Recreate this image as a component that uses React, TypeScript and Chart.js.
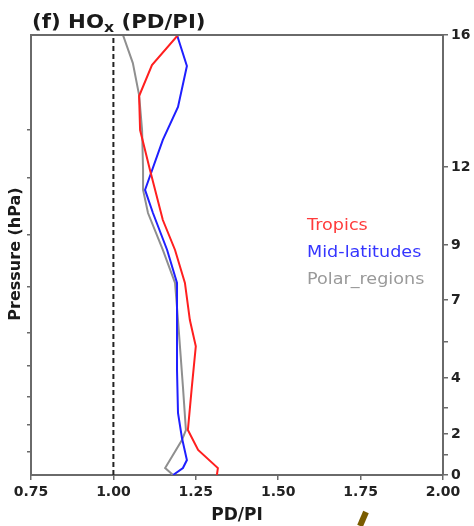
import React, { useEffect, useRef } from 'react';
import { Chart, registerables, LinearScale } from 'chart.js';

// ---- data (altitude in km, ratio PD/PI) ----
const seriesLabels = ['Tropics', 'Mid-latitudes', 'Polar_regions'];
const seriesColors = ['#ff1f1f', '#1f1fff', '#8f8f8f'];
const legendColors = ['#ff3b3b', '#3535ff', '#9a9a9a'];

const tropicsAlt = [0, 0.34, 1.22, 2.14, 3.68, 5.22, 6.23, 7.62, 8.82, 9.96, 11.88, 13.12, 14.15, 15.09, 16];
const tropicsRatio = [1.314, 1.317, 1.257, 1.226, 1.238, 1.250, 1.232, 1.217, 1.187, 1.150, 1.111, 1.081, 1.078, 1.117, 1.196];

const midlatAlt = [0, 0.34, 0.73, 1.8, 2.75, 4.31, 6.27, 7.62, 8.82, 10.23, 11.12, 12.82, 13.82, 15.06, 16];
const midlatRatio = [1.181, 1.211, 1.223, 1.208, 1.196, 1.193, 1.193, 1.193, 1.163, 1.120, 1.096, 1.150, 1.196, 1.223, 1.193];

const polarAlt = [0, 0.34, 1.71, 2.14, 3.68, 6.23, 7.62, 8.82, 10.23, 11.12, 11.9, 13.12, 14.18, 15.15, 16];
const polarRatio = [1.181, 1.157, 1.208, 1.220, 1.211, 1.196, 1.187, 1.150, 1.105, 1.090, 1.090, 1.087, 1.078, 1.059, 1.029];

const refRatio = 1.0;
const xTicks = [0.75, 1.0, 1.25, 1.5, 1.75, 2.0];
const altTickLabels = [0, 2, 4, 7, 9, 12, 16];
const altMinorTicks = [0.98, 2.93, 5.38];
const pressureTicks = [1.12, 2.32, 3.32, 4.46, 5.73, 7.47, 9.38, 11.58, 13.12];

// ---- custom vertical scale: altitude axis with non-uniform spacing ----
const KM_KNOTS = [0, 2, 4, 7, 9, 12, 16];
const FRAC_KNOTS = [0, 0.0932, 0.2205, 0.3977, 0.5227, 0.7, 1];
function interp(v: number, xs: number[], ys: number[]) {
  if (v <= xs[0]) return ys[0];
  for (let i = 1; i < xs.length; i++) {
    if (v <= xs[i]) {
      const t = (v - xs[i - 1]) / (xs[i] - xs[i - 1]);
      return ys[i - 1] + t * (ys[i] - ys[i - 1]);
    }
  }
  return ys[ys.length - 1];
}
class AltitudeScale extends LinearScale {
  static id = 'altitude';
  static defaults = { ...(LinearScale as any).defaults };
  getPixelForValue(value: any) {
    if (value == null || isNaN(value)) return NaN;
    return (this as any).getPixelForDecimal(interp(value, KM_KNOTS, FRAC_KNOTS));
  }
  getValueForPixel(pixel: number) {
    return interp((this as any).getDecimalForPixel(pixel), FRAC_KNOTS, KM_KNOTS);
  }
}

Chart.register(...registerables, AltitudeScale as any);

const AXIS_COLOR = '#6a6a6a';
const TICK_FONT = { family: 'DejaVu Sans', size: 14, weight: 'bold' as const };

const decorPlugin = {
  id: 'decor',
  afterDraw(chart: any) {
    const { ctx, chartArea } = chart;
    const { left, right, top, bottom } = chartArea;
    ctx.save();
    // top frame line
    ctx.strokeStyle = AXIS_COLOR;
    ctx.lineWidth = 2;
    ctx.beginPath();
    ctx.moveTo(left - 1, top);
    ctx.lineTo(right + 1, top);
    ctx.stroke();

    // title with subscript
    ctx.fillStyle = '#1a1a1a';
    ctx.textBaseline = 'alphabetic';
    ctx.save();
    ctx.translate(left + 1, 28);
    ctx.scale(1.12, 1);
    ctx.font = 'bold 19px "DejaVu Sans"';
    let x = 0;
    ctx.fillText('(f) HO', x, 0);
    x += ctx.measureText('(f) HO').width;
    ctx.font = 'bold 14px "DejaVu Sans"';
    ctx.fillText('x', x, 4);
    x += ctx.measureText('x').width;
    ctx.font = 'bold 19px "DejaVu Sans"';
    ctx.fillText(' (PD/PI)', x, 0);
    ctx.restore();

    // x axis title
    ctx.font = 'bold 17px "DejaVu Sans"';
    ctx.textAlign = 'center';
    ctx.fillText('PD/PI', (left + right) / 2, 520);

    // y axis title
    ctx.save();
    ctx.translate(16, (top + bottom) / 2 - 1);
    ctx.rotate(-Math.PI / 2);
    ctx.font = 'bold 16px "DejaVu Sans"';
    ctx.textAlign = 'center';
    ctx.textBaseline = 'middle';
    ctx.fillText('Pressure (hPa)', 0, 0);
    ctx.restore();

    // legend (text only)
    const lx = left + 0.67 * (right - left);
    const ly = [226, 253, 280];
    seriesLabels.forEach((lab, i) => {
      ctx.save();
      ctx.translate(lx, ly[i]);
      ctx.scale(1.1, 1);
      ctx.font = '16px "DejaVu Sans"';
      ctx.textAlign = 'left';
      ctx.textBaseline = 'middle';
      ctx.fillStyle = legendColors[i];
      ctx.fillText(lab, 0, 0);
      ctx.restore();
    });

    // stray brown stroke present in the reference image
    ctx.strokeStyle = '#7a5c00';
    ctx.lineWidth = 6;
    ctx.beginPath();
    ctx.moveTo(366, 512);
    ctx.lineTo(360, 526);
    ctx.stroke();
    ctx.restore();
  },
};

function lineData(alt: number[], ratio: number[]) {
  return alt.map((a, i) => ({ x: ratio[i], y: a }));
}

export default function App() {
  const ref = useRef<HTMLCanvasElement>(null);
  useEffect(() => {
    if (!ref.current) return;
    const gridOpts = {
      drawOnChartArea: false,
      drawTicks: true,
      tickLength: 5,
      color: AXIS_COLOR,
      lineWidth: 1.5,
    };
    const borderOpts = { display: true, color: AXIS_COLOR, width: 2 };
    const chart = new Chart(ref.current, {
      type: 'line',
      data: {
        datasets: [
          {
            label: 'ref',
            data: [
              { x: refRatio, y: 0 },
              { x: refRatio, y: 16 },
            ],
            borderColor: '#222',
            borderWidth: 2,
            borderDash: [5, 3],
            pointRadius: 0,
            yAxisID: 'y',
          },
          {
            label: seriesLabels[0],
            data: lineData(tropicsAlt, tropicsRatio),
            borderColor: seriesColors[0],
            borderWidth: 2,
            pointRadius: 0,
            yAxisID: 'y',
          },
          {
            label: seriesLabels[1],
            data: lineData(midlatAlt, midlatRatio),
            borderColor: seriesColors[1],
            borderWidth: 2,
            pointRadius: 0,
            yAxisID: 'y',
          },
          {
            label: seriesLabels[2],
            data: lineData(polarAlt, polarRatio),
            borderColor: seriesColors[2],
            borderWidth: 2,
            pointRadius: 0,
            yAxisID: 'y',
          },
        ],
      },
      options: {
        animation: false,
        responsive: false,
        devicePixelRatio: 1,
        layout: { padding: { top: 35, left: 0, right: 0, bottom: 0 } },
        plugins: { legend: { display: false }, tooltip: { enabled: false }, title: { display: false } },
        elements: { line: { tension: 0 } },
        scales: {
          x: {
            type: 'linear',
            position: 'bottom',
            min: 0.75,
            max: 2.0,
            afterBuildTicks: (s: any) => {
              s.ticks = xTicks.map((v) => ({ value: v }));
            },
            afterFit: (s: any) => {
              s.height = 51;
            },
            ticks: {
              autoSkip: false,
              maxRotation: 0,
              padding: 4,
              color: '#222',
              font: TICK_FONT,
              callback: (v: any) => Number(v).toFixed(2),
            },
            grid: gridOpts,
            border: borderOpts,
          },
          y: {
            type: 'altitude' as any,
            position: 'left',
            min: 0,
            max: 16,
            afterBuildTicks: (s: any) => {
              s.ticks = pressureTicks.map((v) => ({ value: v }));
            },
            afterFit: (s: any) => {
              s.width = 31;
            },
            ticks: { autoSkip: false, callback: () => '' },
            grid: { ...gridOpts, tickLength: 4 },
            border: borderOpts,
          },
          y2: {
            type: 'altitude' as any,
            position: 'right',
            min: 0,
            max: 16,
            afterBuildTicks: (s: any) => {
              s.ticks = [...altTickLabels, ...altMinorTicks].sort((a, b) => a - b).map((v) => ({ value: v }));
            },
            afterFit: (s: any) => {
              s.width = 31;
            },
            ticks: {
              autoSkip: false,
              padding: 3,
              color: '#222',
              font: TICK_FONT,
              callback: (v: any) => (altTickLabels.includes(v) ? String(v) : ''),
            },
            grid: gridOpts,
            border: borderOpts,
          },
        },
      } as any,
      plugins: [decorPlugin],
    });
    return () => chart.destroy();
  }, []);
  return (
    <div style={{ position: 'absolute', left: 0, top: 0, width: 474, height: 526, background: '#fff' }}>
      <canvas ref={ref} width={474} height={526} style={{ width: 474, height: 526, display: 'block' }} />
    </div>
  );
}
